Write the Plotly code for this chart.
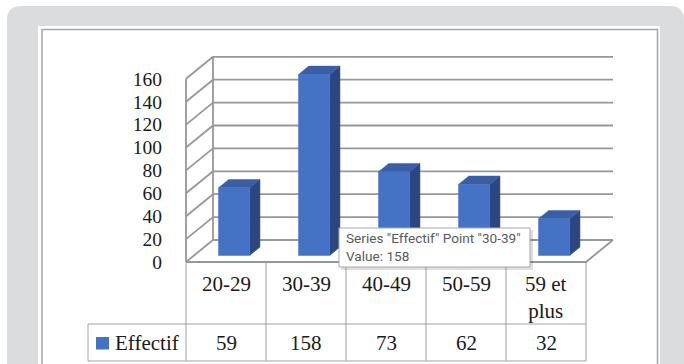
import plotly.graph_objects as go

# ---------------- data ----------------
categories = ["20-29", "30-39", "40-49", "50-59", "59 et plus"]
cat_labels = ["20-29", "30-39", "40-49", "50-59", "59 et<br>plus"]
values = [59, 158, 73, 62, 32]
y_ticks = [0, 20, 40, 60, 80, 100, 120, 140, 160]
series_name = "Effectif"
hover_index = 1

# ---------------- style / geometry ----------------
W, H = 684, 364
X_RANGE = [-2.825, 5.725]
Y_RANGE = [-89.08, 228.8]
DX, DY = 0.3375, 19.2          # oblique depth of the walls (data units)
BAR_W = 0.39
F0, F1 = 0.30, 0.68            # bar depth front/back fractions
FRONT = "#4472C4"
TOP = "#3A5EA6"
SIDE = "#2C4680"
GRID = "#979797"
TABLE_LINE = "#a3a3a3"
SERIF = "Liberation Serif"


def px(x):
    return x / W


def py(y):
    return 1 - y / H


fig = go.Figure()

# ---------- walls / gridlines ----------
n = len(categories)
xl, xr = -0.5, n - 0.5
gx, gy = [], []
for v in y_ticks:
    gx += [xl + DX, xr + DX, None]
    gy += [v + DY, v + DY, None]
    gx += [xl, xl + DX, None]
    gy += [v, v + DY, None]
gx += [xl, xl, None, xl + DX, xl + DX, None]
gy += [y_ticks[0], y_ticks[-1], None, y_ticks[0] + DY, y_ticks[-1] + DY, None]
gx += [xl, xr, xr + DX, None]
gy += [0, 0, DY, None]
fig.add_trace(go.Scatter(x=gx, y=gy, mode="lines",
                         line=dict(color=GRID, width=1.8),
                         hoverinfo="skip", showlegend=False))

# ---------- 3D bars ----------
for i, v in enumerate(values):
    x0 = i - BAR_W / 2 + F0 * DX
    x1 = i + BAR_W / 2 + F0 * DX
    b0 = F0 * DY
    ddx = (F1 - F0) * DX
    ddy = (F1 - F0) * DY
    fig.add_trace(go.Scatter(
        x=[x1, x1 + ddx, x1 + ddx, x1, x1],
        y=[b0, b0 + ddy, v + b0 + ddy, v + b0, b0],
        fill="toself", fillcolor=SIDE, mode="lines",
        line=dict(color=SIDE, width=0.5), hoverinfo="skip", showlegend=False))
    fig.add_trace(go.Scatter(
        x=[x0, x1, x1 + ddx, x0 + ddx, x0],
        y=[v + b0, v + b0, v + b0 + ddy, v + b0 + ddy, v + b0],
        fill="toself", fillcolor=TOP, mode="lines",
        line=dict(color=TOP, width=0.5), hoverinfo="skip", showlegend=False))
    fig.add_trace(go.Scatter(
        x=[x0, x1, x1, x0, x0],
        y=[b0, b0, v + b0, v + b0, b0],
        fill="toself", fillcolor=FRONT, mode="lines",
        line=dict(color=FRONT, width=0.5), hoverinfo="skip", showlegend=False))

shapes = []
annotations = []

# ---------- background frame ----------
r = 14
gx0, gy0, gx1, gy1 = 7, 6, 684, 380
path = (f"M {px(gx0)},{py(gy0 + r)} "
        f"Q {px(gx0)},{py(gy0)} {px(gx0 + r)},{py(gy0)} "
        f"L {px(gx1 - r)},{py(gy0)} "
        f"Q {px(gx1)},{py(gy0)} {px(gx1)},{py(gy0 + r)} "
        f"L {px(gx1)},{py(gy1)} L {px(gx0)},{py(gy1)} Z")
shapes.append(dict(type="path", path=path, xref="paper", yref="paper",
                   fillcolor="#dbdcde", line=dict(width=0), layer="below"))
shapes.append(dict(type="rect", xref="paper", yref="paper",
                   x0=px(38), x1=px(660), y0=py(26), y1=py(380),
                   fillcolor="white", line=dict(width=0), layer="below"))
shapes.append(dict(type="rect", xref="paper", yref="paper",
                   x0=px(42), x1=px(657.5), y0=py(29.5), y1=py(380),
                   fillcolor="rgba(0,0,0,0)",
                   line=dict(color="#a8a8a8", width=1.5), layer="below"))

# ---------- data table ----------
row_top, row_mid, row_bot = 262, 324, 361
legend_left = 88
x_leg = xl + (legend_left - 186) / 80.0
for k in range(n + 1):
    shapes.append(dict(type="line", xref="x", yref="paper",
                       x0=xl + k, x1=xl + k, y0=py(row_top), y1=py(row_bot),
                       line=dict(color=TABLE_LINE, width=1), layer="below"))
for yy in (row_mid, row_bot):
    shapes.append(dict(type="line", xref="x", yref="paper",
                       x0=x_leg, x1=xr, y0=py(yy), y1=py(yy),
                       line=dict(color=TABLE_LINE, width=1), layer="below"))
shapes.append(dict(type="line", xref="x", yref="paper",
                   x0=x_leg, x1=x_leg, y0=py(row_mid), y1=py(row_bot),
                   line=dict(color=TABLE_LINE, width=1), layer="below"))

for i, lab in enumerate(cat_labels):
    annotations.append(dict(x=i, y=py(270), xref="x", yref="paper",
                            text=lab, showarrow=False, xanchor="center",
                            yanchor="top",
                            font=dict(family=SERIF, size=21, color="#1a1a1a")))
for i, v in enumerate(values):
    annotations.append(dict(x=i, y=py(343), xref="x", yref="paper",
                            text=str(v), showarrow=False, xanchor="center",
                            yanchor="middle",
                            font=dict(family=SERIF, size=21, color="#1a1a1a")))
shapes.append(dict(type="rect", xref="paper", yref="paper",
                   x0=px(96), x1=px(109), y0=py(337), y1=py(349.5),
                   fillcolor=FRONT, line=dict(width=0), layer="above"))
annotations.append(dict(x=px(113), y=py(343), xref="paper", yref="paper",
                        text=series_name, showarrow=False, xanchor="left",
                        yanchor="middle",
                        font=dict(family=SERIF, size=21, color="#1a1a1a")))

# ---------- tooltip ----------
tx0, ty0, tx1, ty1 = 339, 228, 530, 267
shapes.append(dict(type="rect", xref="paper", yref="paper",
                   x0=px(tx0 + 2), x1=px(tx1 + 3), y0=py(ty0 + 2), y1=py(ty1 + 3),
                   fillcolor="rgba(0,0,0,0.13)", line=dict(width=0), layer="above"))
shapes.append(dict(type="rect", xref="paper", yref="paper",
                   x0=px(tx0), x1=px(tx1), y0=py(ty0), y1=py(ty1),
                   fillcolor="white", line=dict(color="#a9a9a9", width=1),
                   layer="above"))
annotations.append(dict(x=px(344), y=py(238), xref="paper", yref="paper",
                        text=f'Series "{series_name}" Point "{categories[hover_index]}"',
                        showarrow=False, xanchor="left", yanchor="middle",
                        font=dict(family="Roboto", size=13.6, color="#5a5a5a")))
annotations.append(dict(x=px(344), y=py(256), xref="paper", yref="paper",
                        text=f"Value: {values[hover_index]}",
                        showarrow=False, xanchor="left", yanchor="middle",
                        font=dict(family="Roboto", size=13.6, color="#5a5a5a")))

fig.update_layout(
    width=W, height=H,
    margin=dict(l=0, r=0, t=0, b=0),
    paper_bgcolor="white", plot_bgcolor="rgba(0,0,0,0)",
    showlegend=False, hovermode=False,
    shapes=shapes, annotations=annotations,
    xaxis=dict(range=X_RANGE, domain=[0, 1], visible=False, fixedrange=True),
    yaxis=dict(range=Y_RANGE, anchor="free", position=186 / W,
               tickvals=y_ticks, ticktext=[str(t) for t in y_ticks],
               showgrid=False, zeroline=False, showline=False, ticks="",
               ticklabelstandoff=24,
               tickfont=dict(family=SERIF, size=19.5, color="#1a1a1a"),
               fixedrange=True),
)

fig.write_html("out.html")
